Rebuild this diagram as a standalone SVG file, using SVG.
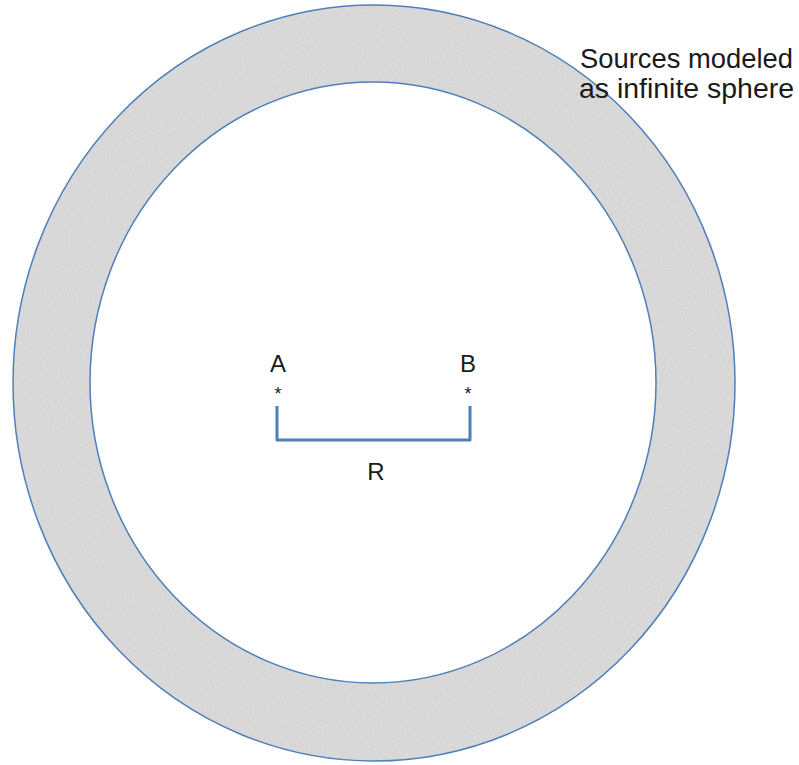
<svg xmlns="http://www.w3.org/2000/svg" width="799" height="765" viewBox="0 0 799 765">
<style>
.lbl{font-family:"Liberation Sans",Arial,sans-serif;fill:#1a1a1a}
.edge{fill:none;stroke:#4f7fb8;stroke-width:1.5}
</style>
<defs>
<filter id="grain" x="0" y="0" width="100%" height="100%">
<feTurbulence type="fractalNoise" baseFrequency="0.7" numOctaves="2" seed="3" result="n"/>
<feColorMatrix in="n" type="matrix" values="0 0 0 0 0.66  0 0 0 0 0.66  0 0 0 0 0.66  3 0 0 0 -1.2" result="g"/>
<feComposite in="g" in2="SourceGraphic" operator="in" result="gc"/>
<feMerge><feMergeNode in="SourceGraphic"/><feMergeNode in="gc"/></feMerge>
</filter>
</defs>
<rect width="799" height="765" fill="#ffffff"/>
<g id="sphere">
<path d="M13,383 a361,378 0 1,0 722,0 a361,378 0 1,0 -722,0 Z M90,382.5 a283,300.5 0 1,0 566,0 a283,300.5 0 1,0 -566,0 Z" fill="#dadada" fill-rule="evenodd" filter="url(#grain)"/>
<ellipse class="edge" cx="374" cy="383" rx="361" ry="378"/>
<ellipse class="edge" cx="373" cy="382.5" rx="283" ry="300.5"/>
</g>
<g id="label-sources">
<text class="lbl" x="580" y="68" font-size="27.5" textLength="213" lengthAdjust="spacingAndGlyphs">Sources modeled</text>
<text class="lbl" x="579" y="98" font-size="27.5" textLength="215" lengthAdjust="spacingAndGlyphs">as infinite sphere</text>
</g>
<g id="pointA">
<text class="lbl" x="278" y="372" font-size="24" text-anchor="middle">A</text>
<text class="lbl" x="278" y="400" font-size="18" text-anchor="middle">*</text>
</g>
<g id="pointB">
<text class="lbl" x="468" y="372" font-size="24" text-anchor="middle">B</text>
<text class="lbl" x="468" y="400" font-size="18" text-anchor="middle">*</text>
</g>
<g id="connectors">
<path d="M277,406 V440 H470 V406" fill="none" stroke="#4f7fb8" stroke-width="3" stroke-linejoin="round"/>
</g>
<g id="label-R">
<text class="lbl" x="376" y="480" font-size="24" text-anchor="middle">R</text>
</g>
</svg>
